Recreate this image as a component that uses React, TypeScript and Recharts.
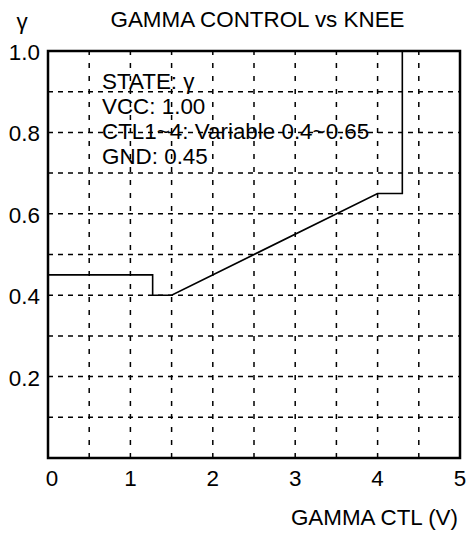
import React from "react";
import { LineChart, Line, XAxis, YAxis, ReferenceLine, ReferenceArea } from "recharts";

// ---- data ----
const ctlVolts = [0, 1.27, 1.27, 1.5, 4.0, 4.3, 4.3];
const gammaValues = [0.45, 0.45, 0.4, 0.4, 0.65, 0.65, 1.0];
const xTicks = [0, 1, 2, 3, 4, 5];
const yTicks = [0.2, 0.4, 0.6, 0.8, 1.0];
const xGrid = [0.5, 1, 1.5, 2, 2.5, 3, 3.5, 4, 4.5];
const yGrid = [0.1, 0.2, 0.3, 0.4, 0.5, 0.6, 0.7, 0.8, 0.9];
const titleText = "GAMMA CONTROL vs KNEE";
const yLabelText = "γ";
const xLabelText = "GAMMA CTL (V)";
const noteLines = ["STATE: γ", "VCC: 1.00", "CTL1~4: Variable 0.4~0.65", "GND: 0.45"];

const rows = ctlVolts.map((v, i) => ({ v, g: gammaValues[i] }));

const W = 467;
const H = 535;
const FONT = '"Liberation Sans", Arial, Helvetica, sans-serif';
const FS = 22.4;

const XTick = (props: any) => {
  const { x, y, payload } = props;
  return (
    <text x={x + (payload.value === 0 ? 4 : 0)} y={y} dy={20} textAnchor="middle" fontSize={FS} fontFamily={FONT} fill="#000">
      {payload.value}
    </text>
  );
};

const YTick = (props: any) => {
  const { x, y, payload } = props;
  return (
    <text x={x} y={y} dy={9} textAnchor="end" fontSize={FS} fontFamily={FONT} fill="#000">
      {Number(payload.value).toFixed(1)}
    </text>
  );
};

export default function App() {
  return (
    <div style={{ position: "absolute", left: 0, top: 0, width: W, height: H, background: "#fff" }}>
      <LineChart
        width={W}
        height={H}
        data={rows}
        margin={{ top: 51, right: 7, left: 0, bottom: 17 }}
      >
        <XAxis
          type="number"
          dataKey="v"
          domain={[0, 5]}
          ticks={xTicks}
          interval={0}
          axisLine={false}
          tickLine={false}
          height={60}
          tick={<XTick />}
          allowDataOverflow
        />
        <YAxis
          type="number"
          domain={[0, 1]}
          ticks={yTicks}
          interval={0}
          axisLine={false}
          tickLine={false}
          width={48}
          tick={<YTick />}
          allowDataOverflow
        />
        {xGrid.map((v) => (
          <ReferenceLine key={"vx" + v} x={v} stroke="#000" strokeWidth={1.5} strokeDasharray="5 8" />
        ))}
        {yGrid.map((v) => (
          <ReferenceLine key={"hy" + v} y={v} stroke="#000" strokeWidth={1.5} strokeDasharray="5 5" />
        ))}
        <Line
          type="linear"
          dataKey="g"
          stroke="#000"
          strokeWidth={1.6}
          dot={false}
          activeDot={false}
          isAnimationActive={false}
        />
        <ReferenceArea x1={0} x2={5} y1={0} y2={1} fill="none" fillOpacity={0} stroke="#000" strokeWidth={2.5} />
      </LineChart>
      <svg
        width={W}
        height={H}
        style={{ position: "absolute", left: 0, top: 0, pointerEvents: "none" }}
      >
        <text x={257.5} y={26.5} textAnchor="middle" fontSize={FS} fontFamily={FONT} fill="#000">
          {titleText}
        </text>
        <text x={22} y={29} textAnchor="middle" fontSize={FS} fontFamily={FONT} fill="#000">
          {yLabelText}
        </text>
        <text x={458} y={525} textAnchor="end" fontSize={FS} fontFamily={FONT} fill="#000">
          {xLabelText}
        </text>
        {noteLines.map((t, i) => (
          <text key={t} x={102} y={88.5 + i * 25} fontSize={FS} fontFamily={FONT} fill="#000">
            {t}
          </text>
        ))}
      </svg>
    </div>
  );
}
